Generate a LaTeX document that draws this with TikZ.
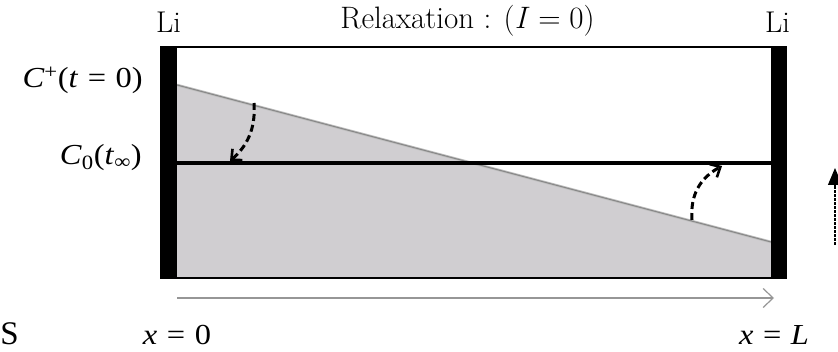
\documentclass[tikz,border=0pt]{standalone}
\usepackage{fontspec}
\newfontfamily\wordfont[FakeStretch=1.12]{Liberation Serif}
\newfontfamily\plainword{Liberation Serif}
\usetikzlibrary{arrows.meta}
\definecolor{fillgray}{RGB}{208,206,209}
\definecolor{slantgray}{RGB}{135,135,135}
\definecolor{halogray}{RGB}{190,190,190}
\definecolor{axisgray}{RGB}{150,150,150}
\newcommand{\eqsp}{\hspace{0.33em}}
\newcommand{\mthsp}{\hspace{0.278em}}
\begin{document}
\begin{tikzpicture}[x=1pt,y=-1pt,
  lmlabel/.style={inner sep=0pt, anchor=base, font=\fontsize{30}{34}\selectfont},
  eqlabel/.style={inner sep=0pt, anchor=base, font=\wordfont\fontsize{29}{33}\selectfont},
  bar/.style={fill=black},
  relaxarrow/.style={line width=3pt, dash pattern=on 7pt off 4pt, -{Straight Barb[length=8pt,width=15pt,line width=2.6pt]}},
  axisarrow/.style={axisgray, line width=1.2pt, -{Straight Barb[length=10pt,width=19pt,line width=1.2pt]}}
]
\useasboundingbox (0,0) rectangle (838,352);
% gray concentration profile
\fill[fillgray] (177,85) -- (771,242) -- (771,278) -- (177,278) -- cycle;
\coordinate (p0) at (177,85);
\coordinate (p1) at (771,242);
\draw[halogray, line width=2.6pt] (p0) -- (p1);
\draw[slantgray, line width=1pt] (p0) -- (p1);
% equilibrium line
\coordinate (e0) at (177,163);
\coordinate (e1) at (771,163);
\draw[line width=4.5pt] (e0) -- (e1);
% cell frame
\draw[line width=2.5pt] (160,47) -- (787,47);
\draw[line width=2pt] (160,278) -- (787,278);
\fill[bar] (160,45.8) rectangle (177,279);
\fill[bar] (771,45.8) rectangle (787,279);
% labels
\node[lmlabel] (liL) at (168.5,33) {Li};
\node[lmlabel] (liR) at (777.5,33) {Li};
\node[lmlabel, font=\fontsize{31}{35}\selectfont] (title) at (467.5,29) {Relaxation : (\textit{I}\mthsp=\mthsp0)};
\node[eqlabel, anchor=base east] (cplus) at (143,88) {\textit{C}\textsuperscript{+}(\textit{t}\eqsp=\eqsp0)};
\node[eqlabel, anchor=base east] (czero) at (142,165) {\textit{C}\textsubscript{0}(\textit{t}\textsubscript{∞})};
\node[eqlabel, font=\plainword\fontsize{33}{37}\selectfont] (S) at (9.5,345) {S};
\node[eqlabel] (x0) at (177,345) {\textit{x}\eqsp=\eqsp0};
\node[eqlabel] (xL) at (774,345) {\textit{x}\eqsp=\eqsp\textit{L}};
% relaxation arrows
\coordinate (a1s) at (254,103);
\coordinate (a1e) at (230,161);
\draw[relaxarrow] (a1s) .. controls (256,130) and (246,147) .. (a1e);
\coordinate (a2s) at (692,220);
\coordinate (a2e) at (722,166);
\draw[relaxarrow] (a2s) .. controls (690,195) and (700,178) .. (a2e);
% x axis
\coordinate (ax0) at (177,298);
\coordinate (ax1) at (774,298);
\draw[axisarrow] (ax0) -- (ax1);
% dotted arrow at right edge
\coordinate (d0) at (835,245);
\coordinate (d1) at (835,168);
\draw[line width=1.2pt, dash pattern=on 2.5pt off 1.5pt, -{Triangle[length=17pt,width=14pt]}] (d0) -- (d1);
\end{tikzpicture}
\end{document}
